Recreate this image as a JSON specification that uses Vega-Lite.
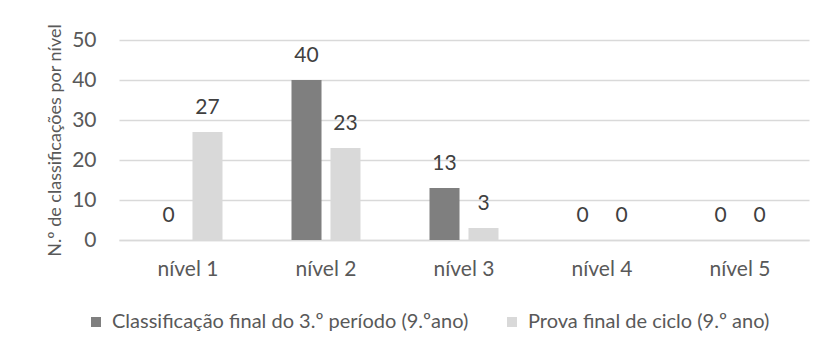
{
  "$schema": "https://vega.github.io/schema/vega-lite/v6.json",
  "autosize": {"type": "none"},
  "width": 690,
  "height": 200,
  "padding": {"left": 119, "top": 40, "right": 18, "bottom": 114},
  "background": "white",
  "config": {"view": {"stroke": null}},
  "data": {
    "values": [
      {"nivel": "nível 1", "serie": "Classificação final do 3.º período (9.ºano)", "valor": 0},
      {"nivel": "nível 1", "serie": "Prova final de ciclo (9.º ano)", "valor": 27},
      {"nivel": "nível 2", "serie": "Classificação final do 3.º período (9.ºano)", "valor": 40},
      {"nivel": "nível 2", "serie": "Prova final de ciclo (9.º ano)", "valor": 23},
      {"nivel": "nível 3", "serie": "Classificação final do 3.º período (9.ºano)", "valor": 13},
      {"nivel": "nível 3", "serie": "Prova final de ciclo (9.º ano)", "valor": 3},
      {"nivel": "nível 4", "serie": "Classificação final do 3.º período (9.ºano)", "valor": 0},
      {"nivel": "nível 4", "serie": "Prova final de ciclo (9.º ano)", "valor": 0},
      {"nivel": "nível 5", "serie": "Classificação final do 3.º período (9.ºano)", "valor": 0},
      {"nivel": "nível 5", "serie": "Prova final de ciclo (9.º ano)", "valor": 0}
    ]
  },
  "encoding": {
    "x": {
      "field": "nivel",
      "type": "nominal",
      "sort": null,
      "scale": {"paddingInner": 0.5, "paddingOuter": 0.25},
      "axis": {
        "title": null,
        "labelAngle": 0,
        "ticks": false,
        "domain": true,
        "domainColor": "#d9d9d9",
        "domainWidth": 1.5,
        "labelPadding": 18,
        "labelFontSize": 21,
        "labelColor": "#595959",
        "labelFont": "Lato"
      }
    },
    "xOffset": {
      "field": "serie",
      "type": "nominal",
      "sort": null,
      "scale": {"paddingInner": 0.23, "paddingOuter": 0}
    },
    "y": {
      "field": "valor",
      "type": "quantitative",
      "scale": {"domain": [0, 50]},
      "axis": {
        "title": "N.º de classificações por nível",
        "titleFont": "Lato",
        "titleFontSize": 18,
        "titleFontWeight": "normal",
        "titleColor": "#595959",
        "titlePadding": 7,
        "values": [0, 10, 20, 30, 40, 50],
        "ticks": false,
        "domain": false,
        "grid": true,
        "gridColor": "#d9d9d9",
        "gridWidth": 1.5,
        "labelPadding": 23,
        "labelFontSize": 21,
        "labelColor": "#595959",
        "labelFont": "Lato"
      }
    }
  },
  "layer": [
    {
      "mark": {"type": "bar"},
      "encoding": {
        "color": {
          "field": "serie",
          "type": "nominal",
          "sort": null,
          "scale": {"range": ["#7f7f7f", "#d9d9d9"]},
          "legend": {
            "title": null,
            "orient": "none",
            "direction": "horizontal",
            "legendX": -33,
            "legendY": 272,
            "symbolType": "square",
            "symbolSize": 100,
            "symbolStrokeWidth": 0,
            "labelFont": "Lato",
            "labelFontSize": 20,
            "labelColor": "#595959",
            "labelOffset": 6,
            "labelLimit": 0,
            "columnPadding": 33
          }
        }
      }
    },
    {
      "mark": {
        "type": "text",
        "baseline": "alphabetic",
        "dy": -18,
        "font": "Lato",
        "fontSize": 21,
        "color": "#404040"
      },
      "encoding": {"text": {"field": "valor", "type": "quantitative"}}
    }
  ]
}
